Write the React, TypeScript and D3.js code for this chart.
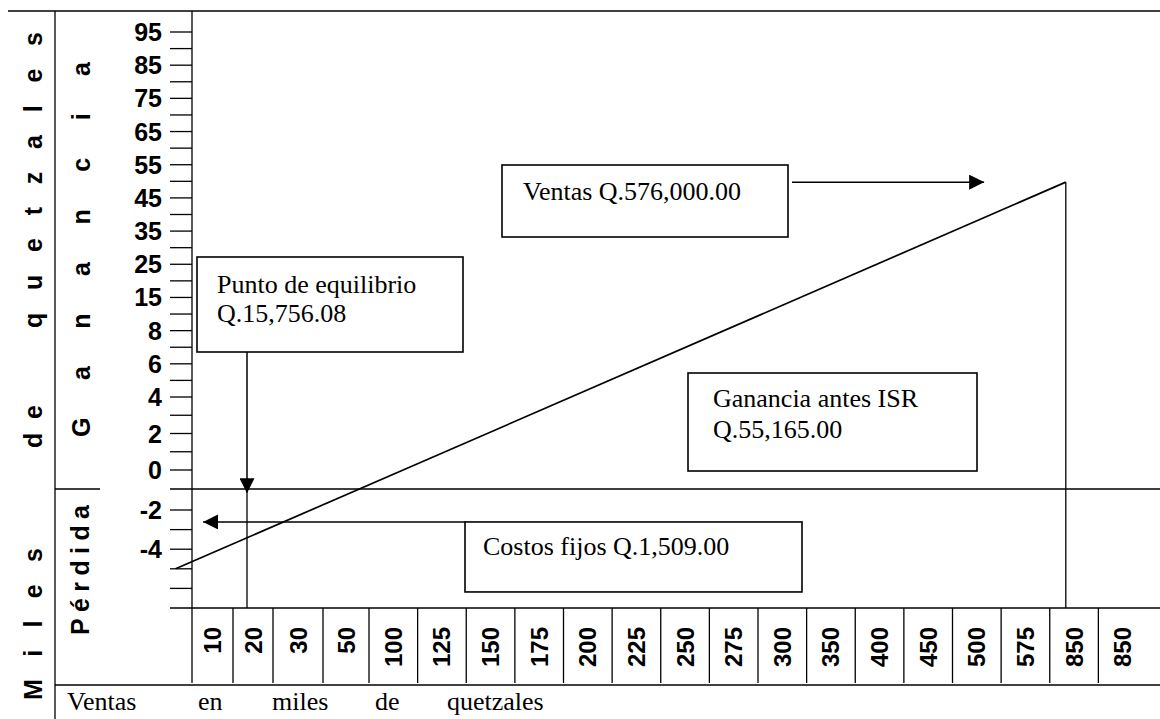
import * as d3 from "d3";

// x categories (ventas en miles de quetzales), one per table column
const xCategories = ["10", "20", "30", "50", "100", "125", "150", "175", "200", "225", "250", "275", "300", "350", "400", "450", "500", "575", "850", "850"];

// y tick labels and the row each one sits on
const yLabels = ["95", "85", "75", "65", "55", "45", "35", "25", "15", "8", "6", "4", "2", "0", "-2", "-4"];
const yLabelRows = [0, 2, 4, 6, 8, 10, 12, 14, 16, 18, 20, 22, 24, 26, 28, 30];
const tickRows = [0, 1, 2, 3, 4, 5, 6, 7, 8, 9, 10, 11, 12, 13, 14, 15, 16, 17, 18, 19, 20, 21, 22, 23, 24, 25, 26, 28, 29, 30, 31, 32];
const zeroRow = 27;
const baseRow = 33;

// sales line, in (column, row) units of the table
const lineCols = [-0.4, 18.33];
const lineRows = [31, 9.05];

// annotation anchors (column, row)
const equilibrioAt = { col: 1.35, row: 27.2 };
const ventasAt = { col: 16.65, row: 9.05 };
const costosAt = { col: 0.27, row: 28.61 };

const bottomWords = ["Ventas", "en", "miles", "de", "quetzales"];

const W = 1160;
const H = 719;
const sans = "'Liberation Sans', Arial, sans-serif";
const serif = "'Liberation Serif', 'Times New Roman', serif";

export default function App() {
  const x = d3.scaleLinear().domain([0, 1, 2, 3, 4, 20]).range([192, 233, 273, 323, 369, 1147]);
  const y = d3.scaleLinear().domain([0, 22, 26, 27, 28, 33]).range([32, 397, 470, 489, 510, 608]);

  const line = d3.line<number>()
    .x((_, i) => x(lineCols[i]))
    .y((_, i) => y(lineRows[i]));

  const eqX = x(equilibrioAt.col);
  const endX = x(lineCols[1]);
  const endY = y(lineRows[1]);
  const costY = y(costosAt.row);
  const bottomX = [67, 198, 272, 375, 447];

  return (
    <svg width={W} height={H} style={{ position: "absolute", left: 0, top: 0, background: "#fff" }}>
      <defs>
        <marker id="arr" viewBox="0 0 10 10" refX={10} refY={5} markerWidth={15} markerHeight={15}
          markerUnits="userSpaceOnUse" orient="auto">
          <path d="M0,0 L10,5 L0,10 z" fill="#000" />
        </marker>
      </defs>

      <g stroke="#000" strokeWidth={1.3} fill="none">
        {/* table borders */}
        <path d={`M8,11 H${W}`} />
        <path d={`M55,11 V${H}`} />
        <path d={`M55,${y(zeroRow)} H100 M170,${y(zeroRow)} H${W}`} strokeWidth={1.6} />
        <path d={`M170,${y(baseRow)} H${W}`} />
        <path d={`M55,685 H${W}`} />
        <path d={`M${x(0)},11 V683`} />
        {tickRows.map((r) => (
          <path key={r} d={`M170,${y(r)} H${x(0)}`} />
        ))}
        {xCategories.slice(1).map((_, i) => (
          <path key={i} d={`M${x(i + 1)},${y(baseRow)} V683`} />
        ))}

        {/* sales line and its drop */}
        <path d={line([0, 1]) ?? ""} strokeWidth={1.7} />
        <path d={`M${endX},${endY} V${y(baseRow)}`} />

        {/* equilibrio marker */}
        <path d={`M${eqX},352 V${y(equilibrioAt.row)}`} markerEnd="url(#arr)" strokeWidth={1.5} />
        <path d={`M${eqX},${y(equilibrioAt.row)} V${y(baseRow)}`} />

        {/* ventas arrow */}
        <path d={`M792,${endY} H${x(ventasAt.col)}`} markerEnd="url(#arr)" strokeWidth={1.5} />

        {/* costos fijos arrow */}
        <path d={`M465,${costY} H${x(costosAt.col)}`} markerEnd="url(#arr)" strokeWidth={1.5} />

        {/* annotation boxes */}
        <rect x={197} y={257} width={266} height={95} fill="#fff" strokeWidth={1.6} />
        <rect x={502} y={165} width={286} height={72} fill="#fff" strokeWidth={1.6} />
        <rect x={688} y={373} width={289} height={98} fill="#fff" strokeWidth={1.6} />
        <rect x={465} y={costY} width={337} height={70} fill="#fff" strokeWidth={1.6} />
      </g>

      {/* y labels */}
      <g fontFamily={sans} fontWeight="bold" fontSize={25} textAnchor="end">
        {yLabels.map((t, i) => (
          <text key={i} x={162} y={y(yLabelRows[i])} dominantBaseline="central">{t}</text>
        ))}
      </g>

      {/* x labels, rotated */}
      <g fontFamily={sans} fontWeight="bold" fontSize={24} textAnchor="end">
        {xCategories.map((t, i) => (
          <text key={i} transform={`translate(${x(i + 0.5) + 8.5},627) rotate(-90)`}>{t}</text>
        ))}
      </g>

      {/* side titles */}
      <g fontFamily={sans} fontWeight="bold" fontSize={25}>
        <text transform="translate(42,700) rotate(-90)" textLength={152} lengthAdjust="spacing">Miles</text>
        <text transform="translate(42,448) rotate(-90)" textLength={43} lengthAdjust="spacing">de</text>
        <text transform="translate(42,328) rotate(-90)" textLength={296} lengthAdjust="spacing">quetzales</text>
        <text transform="translate(90,437) rotate(-90)" textLength={375} lengthAdjust="spacing">Ganancia</text>
        <text transform="translate(89,635) rotate(-90)" textLength={130} lengthAdjust="spacing">Pérdida</text>
      </g>

      {/* annotation texts */}
      <g fontFamily={serif} fontSize={26} fill="#000">
        <text x={217} y={293}>Punto de equilibrio</text>
        <text x={217} y={322}>Q.15,756.08</text>
        <text x={523} y={200}>Ventas Q.576,000.00</text>
        <text x={713} y={407}>Ganancia antes ISR</text>
        <text x={713} y={438}>Q.55,165.00</text>
        <text x={483} y={costY + 33}>Costos fijos Q.1,509.00</text>
        {bottomWords.map((w, i) => (
          <text key={i} x={bottomX[i]} y={710}>{w}</text>
        ))}
      </g>
    </svg>
  );
}
